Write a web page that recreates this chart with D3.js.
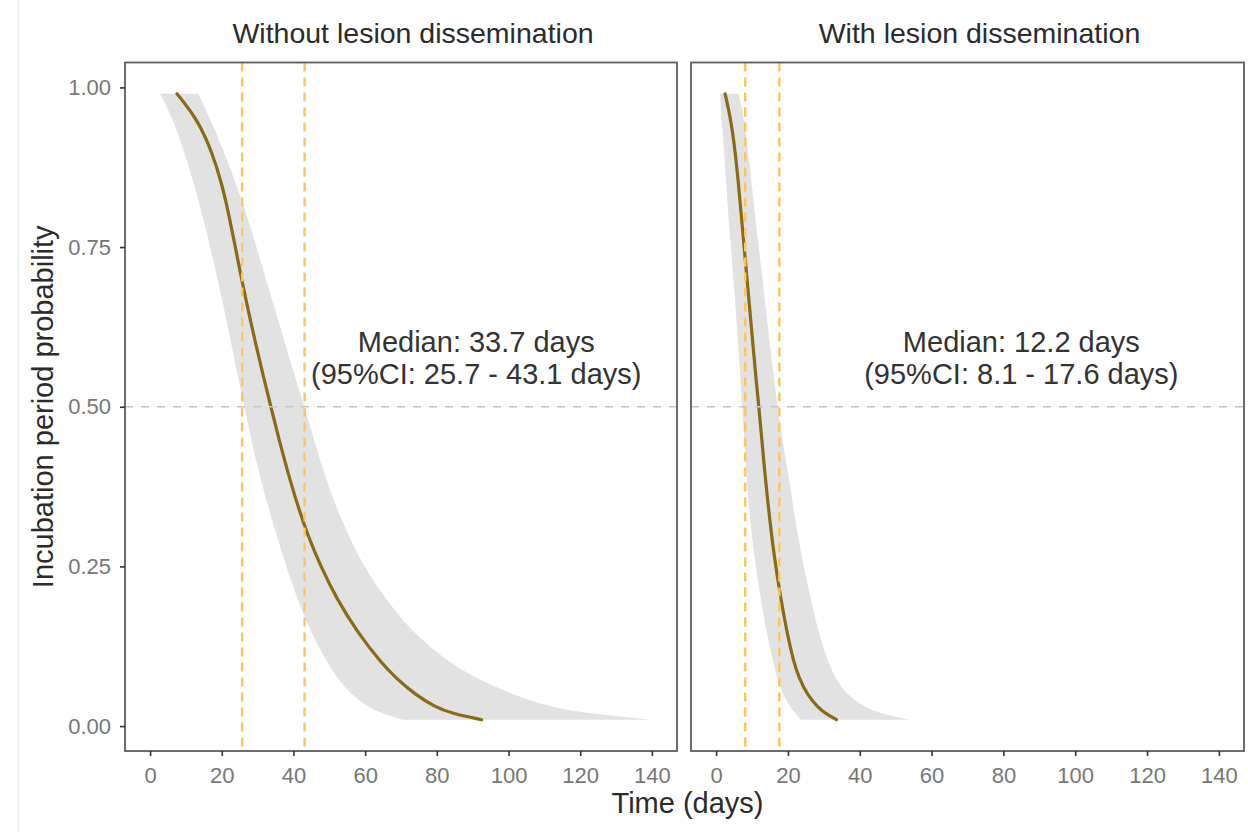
<!DOCTYPE html>
<html>
<head>
<meta charset="utf-8">
<script src="https://cdn.jsdelivr.net/npm/d3@7"></script>
<style>
  body { margin: 0; background: #fff; }
  svg { display: block; font-family: "Liberation Sans", Arial, sans-serif; }
</style>
</head>
<body>
<div id="chart"></div>
<script>
// --- DATA ---
const panelTitles = ["Without lesion dissemination", "With lesion dissemination"];
const probLevels = [0.99, 0.95, 0.90, 0.85, 0.80, 0.75, 0.70, 0.65, 0.60, 0.55, 0.50, 0.45,
                    0.40, 0.35, 0.30, 0.25, 0.20, 0.15, 0.10, 0.075, 0.05, 0.03, 0.02, 0.01];

const medianWithout = [7.5, 13.2, 17.2, 20.0, 22.0, 23.8, 25.5, 27.4, 29.4, 31.5, 33.7, 35.9,
                       38.3, 40.9, 43.9, 47.6, 52.0, 57.5, 64.3, 68.6, 73.8, 79.5, 84.0, 92.5];
const lowerWithout  = [2.8, 6.4, 9.5, 12.2, 14.6, 16.8, 18.8, 20.8, 22.6, 24.4, 26.3, 28.2,
                       30.2, 32.6, 35.2, 38.0, 41.0, 44.6, 49.3, 52.3, 56.0, 60.8, 64.5, 70.5];
const upperWithout  = [13.5, 16.8, 20.6, 23.9, 27.0, 29.7, 32.3, 35.0, 37.6, 40.3, 43.0, 45.7,
                       48.3, 51.4, 55.2, 59.6, 65.6, 72.6, 83.2, 91.0, 101.0, 111.5, 121.5, 140.0];

const medianWith = [2.5, 4.1, 5.3, 6.2, 7.0, 7.8, 8.6, 9.4, 10.2, 11.0, 11.9, 12.7,
                    13.5, 14.4, 15.4, 16.6, 18.0, 19.6, 21.6, 23.1, 25.3, 28.2, 30.4, 33.5];
const lowerWith  = [1.1, 1.5, 2.2, 2.8, 3.4, 4.1, 4.8, 5.5, 6.1, 6.7, 7.2, 7.8,
                    8.4, 9.0, 9.9, 11.0, 12.4, 13.9, 15.9, 17.0, 18.6, 20.6, 22.0, 23.7];
const upperWith  = [6.3, 7.8, 8.9, 9.9, 10.8, 11.9, 12.9, 13.9, 14.9, 16.0, 17.1, 18.4,
                    19.9, 21.3, 22.7, 24.4, 26.3, 28.3, 31.2, 33.2, 36.3, 41.2, 45.5, 53.7];

const medianDays = [33.7, 12.2];
const ciLowDays  = [25.7, 8.1];
const ciHighDays = [43.1, 17.6];

const xTicks = [0, 20, 40, 60, 80, 100, 120, 140];
const yTicks = [0, 0.25, 0.5, 0.75, 1];

// --- LAYOUT ---
const width = 1248, height = 832;
const panelTop = 62.5, panelBottom = 751;
const panelX = [[125, 677], [691, 1244]];
const xLimits = [0, 140], yLimits = [0.01, 0.99];
const labelDays = [91, 85];   // where the median text sits in each panel

function expand(lim) {
    const r = lim[1] - lim[0];
    return [lim[0] - 0.05 * r, lim[1] + 0.05 * r];
}

const panels = [
    { title: panelTitles[0], lower: lowerWithout, median: medianWithout, upper: upperWithout },
    { title: panelTitles[1], lower: lowerWith, median: medianWith, upper: upperWith }
];

const y = d3.scaleLinear().domain(expand(yLimits)).range([panelBottom, panelTop]);

const svg = d3.select("#chart").append("svg")
    .attr("width", width).attr("height", height);

svg.append("rect").attr("width", width).attr("height", height).attr("fill", "#fff");
svg.append("line").attr("x1", 18).attr("x2", 18).attr("y1", 0).attr("y2", height)
    .attr("stroke", "#ededed").attr("stroke-width", 1.5);

panels.forEach((p, i) => {
    const x = d3.scaleLinear().domain(expand(xLimits)).range(panelX[i]);
    const g = svg.append("g");
    const rows = probLevels.map((q, j) => ({ q: q, lo: p.lower[j], mid: p.median[j], hi: p.upper[j] }));

    // confidence band
    g.append("path").datum(rows)
        .attr("d", d3.area().y(d => y(d.q)).x0(d => x(d.lo)).x1(d => x(d.hi)).curve(d3.curveBasis))
        .attr("fill", "#e2e2e2");

    // median curve
    g.append("path").datum(rows)
        .attr("d", d3.line().x(d => x(d.mid)).y(d => y(d.q)).curve(d3.curveBasis))
        .attr("fill", "none").attr("stroke", "#8a6a14").attr("stroke-width", 3.2)
        .attr("stroke-linecap", "round");

    // 50% reference
    g.append("line")
        .attr("x1", panelX[i][0]).attr("x2", panelX[i][1])
        .attr("y1", y(0.5)).attr("y2", y(0.5))
        .attr("stroke", "#c6c6c6").attr("stroke-width", 1.5).attr("stroke-dasharray", "8,8");

    // CI of the median
    g.selectAll("line.ci").data([ciLowDays[i], ciHighDays[i]]).join("line")
        .attr("class", "ci")
        .attr("x1", d => x(d)).attr("x2", d => x(d))
        .attr("y1", panelTop).attr("y2", panelBottom)
        .attr("stroke", "#fdc55a").attr("stroke-width", 2.4).attr("stroke-dasharray", "9,6");

    // panel border
    g.append("rect")
        .attr("x", panelX[i][0]).attr("y", panelTop)
        .attr("width", panelX[i][1] - panelX[i][0]).attr("height", panelBottom - panelTop)
        .attr("fill", "none").attr("stroke", "#5c5c5c").attr("stroke-width", 1.8);

    // x axis
    const xa = g.append("g").attr("transform", `translate(0,${panelBottom})`)
        .call(d3.axisBottom(x).tickValues(xTicks).tickSize(5).tickPadding(11));
    xa.select(".domain").remove();
    xa.selectAll("line").attr("stroke", "#333").attr("stroke-width", 1.6);
    xa.selectAll("text").attr("font-size", 22).attr("fill", "#777").attr("font-family", null);

    // strip title
    g.append("text")
        .attr("x", (panelX[i][0] + panelX[i][1]) / 2 + 12).attr("y", 43)
        .attr("text-anchor", "middle").attr("font-size", 28.5).attr("fill", "#2b2b2b")
        .text(p.title);

    // median annotation
    const ann = g.append("text").attr("text-anchor", "middle").attr("font-size", 29).attr("fill", "#333");
    ann.append("tspan").attr("x", x(labelDays[i])).attr("y", y(0.585))
        .text(`Median: ${medianDays[i]} days`);
    ann.append("tspan").attr("x", x(labelDays[i])).attr("y", y(0.585) + 32)
        .text(`(95%CI: ${ciLowDays[i]} - ${ciHighDays[i]} days)`);
});

// y axis (left panel only)
const ya = svg.append("g").attr("transform", `translate(${panelX[0][0]},0)`)
    .call(d3.axisLeft(y).tickValues(yTicks).tickFormat(d3.format(".2f")).tickSize(5).tickPadding(9));
ya.select(".domain").remove();
ya.selectAll("line").attr("stroke", "#333").attr("stroke-width", 1.6);
ya.selectAll("text").attr("font-size", 22).attr("fill", "#777").attr("font-family", null);

// axis titles
svg.append("text")
    .attr("x", (panelX[0][0] + panelX[1][1]) / 2 + 3).attr("y", 813)
    .attr("text-anchor", "middle").attr("font-size", 29).attr("fill", "#2b2b2b")
    .text("Time (days)");

svg.append("text")
    .attr("transform", `translate(53,${(panelTop + panelBottom) / 2}) rotate(-90)`)
    .attr("text-anchor", "middle").attr("font-size", 29).attr("fill", "#2b2b2b")
    .text("Incubation period probability");
</script>
</body>
</html>
